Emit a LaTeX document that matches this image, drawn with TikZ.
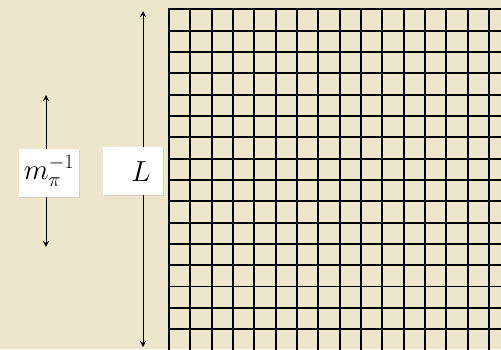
\RequirePackage{fix-cm}
\documentclass[tikz,border=0pt]{standalone}
\usepackage{amsmath,amssymb}
\usepackage{xcolor}
\usetikzlibrary{arrows.meta, positioning, shadows}
\definecolor{parchment}{RGB}{237,229,204}

\begin{document}
\begin{tikzpicture}[
    x=1pt, y=-1pt,
    gridline/.style={line width=1.8pt, black},
    dimarrow/.style={{Stealth[length=6pt,width=6pt]}-{Stealth[length=6pt,width=6pt]}, line width=0.9pt},
    labelbox/.style={rectangle, fill=white, minimum width=60pt, minimum height=48pt, inner sep=0pt,
      drop shadow={opacity=0.2, shadow xshift=0.8pt, shadow yshift=-0.8pt}},
    labeltext/.style={font=\fontsize{29}{34}\selectfont, inner sep=0pt}
]
\fill[parchment] (0,0) rectangle (501,349);
\useasboundingbox (0,0) rectangle (501,349);
% lattice
\begin{scope}
\clip (0,0) rectangle (501,349);
\foreach \i in {0,...,16} {
  \draw[gridline] (169+21.33*\i,9.3) -- (169+21.33*\i,360);
  \draw[gridline] (168.1,9.3+21.33*\i) -- (510,9.3+21.33*\i);
}
\end{scope}
% box size L
\coordinate (Ltop) at (143,11);
\coordinate (Lbot) at (143,347);
\draw[dimarrow] (Ltop) -- (Lbot);
\node[labelbox] (Lbox) at (133,171) {};
\node[labeltext, anchor=base] (Llab) at (141,181) {$L$};
% pion wavelength
\coordinate (mtop) at (46,95);
\coordinate (mbot) at (46,247);
\draw[dimarrow] (mtop) -- (mbot);
\node[labelbox] (mbox) at (49,173) {};
\node[labeltext, anchor=base] (mlab) at (49,179) {$m_\pi^{-1}$};
\end{tikzpicture}
\end{document}
